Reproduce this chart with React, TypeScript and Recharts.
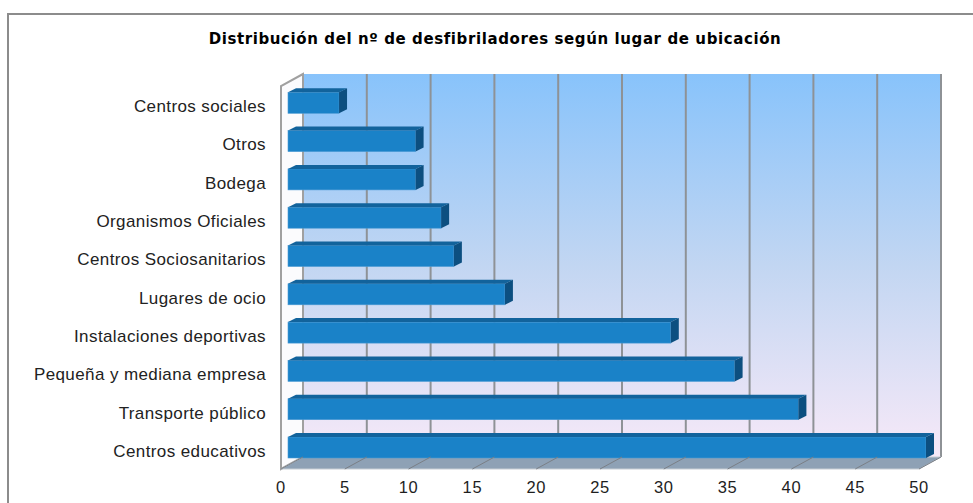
import React from "react";
import { BarChart, Bar, XAxis, YAxis, CartesianGrid, ReferenceArea } from "recharts";

// categories from top to bottom, as they appear in the chart
const lugares: string[] = [
    "Centros sociales",
    "Otros",
    "Bodega",
    "Organismos Oficiales",
    "Centros Sociosanitarios",
    "Lugares de ocio",
    "Instalaciones deportivas",
    "Pequeña y mediana empresa",
    "Transporte público",
    "Centros educativos",
];
const desfibriladores: number[] = [4, 10, 10, 12, 13, 17, 30, 35, 40, 50];
const xTicks: number[] = [0, 5, 10, 15, 20, 25, 30, 35, 40, 45, 50];

const data = lugares.map((name, i) => ({ name, value: desfibriladores[i] }));

// 3D offsets in px
const WALL_DX = 22;
const WALL_DY = 12;
const BAR_DX = 15;
const BAR_DY = 9.3;
const CAP_DX = 8;
const CAP_DY = 4;

const Bar3D = (props: any) => {
    const { x, y, width, height } = props;
    const fx = x - BAR_DX;
    const fy = y + BAR_DY;
    const w = Math.max(width, 0);
    return (
        <g>
            <rect x={fx} y={fy} width={w} height={height} fill="#1a82c8" stroke="#4a9ad4" strokeWidth={0.6} />
            <polygon
                points={`${fx},${fy} ${fx + CAP_DX},${fy - CAP_DY} ${fx + w + CAP_DX},${fy - CAP_DY} ${fx + w},${fy}`}
                fill="#12639c"
            />
            <polygon
                points={`${fx + w},${fy} ${fx + w + CAP_DX},${fy - CAP_DY} ${fx + w + CAP_DX},${fy + height - CAP_DY} ${fx + w},${fy + height}`}
                fill="#0c4f80"
            />
        </g>
    );
};

// floor and left wall of the 3D box
const Box3D = (props: any) => {
    const { x, y, width, height } = props;
    const b = y + height;
    return (
        <g>
            <polygon
                points={`${x},${y} ${x - WALL_DX},${y + WALL_DY} ${x - WALL_DX},${b + WALL_DY} ${x},${b}`}
                fill="#fbfbfd"
                stroke="#a0a0a0"
                strokeWidth={2}
            />
            <polygon
                points={`${x},${b} ${x + width},${b} ${x + width - WALL_DX},${b + WALL_DY} ${x - WALL_DX},${b + WALL_DY}`}
                fill="#8ea1b5"
                stroke="#c6ccd3"
                strokeWidth={1}
            />
        </g>
    );
};

const XTick = (props: any) => {
    const { x, y, payload } = props;
    return (
        <g>
            <line x1={x} y1={y} x2={x - WALL_DX} y2={y + WALL_DY} stroke="#7a7f86" strokeWidth={1} />
            <text
                x={x - WALL_DX}
                y={y + 36}
                textAnchor="middle"
                fontSize={16.5}
                letterSpacing={0.6}
                fill="#1e1e1e"
                fontFamily="'Liberation Sans', Arial, sans-serif"
            >
                {payload.value}
            </text>
        </g>
    );
};

const YTick = (props: any) => {
    const { x, y, payload } = props;
    return (
        <text
            x={x - 37}
            y={y + 19}
            textAnchor="end"
            fontSize={17}
            letterSpacing={0.4}
            fill="#222"
            fontFamily="'Liberation Sans', Arial, sans-serif"
        >
            {payload.value}
        </text>
    );
};

export default function App() {
    return (
        <div style={{ position: "absolute", left: 0, top: 0, width: 973, height: 503, overflow: "hidden", background: "#fff" }}>
            <div
                style={{
                    position: "absolute",
                    left: 7,
                    top: 13,
                    width: 1000,
                    height: 600,
                    border: "2px solid #8c8c8c",
                    boxSizing: "border-box",
                }}
            />
            <div
                style={{
                    position: "absolute",
                    left: 0,
                    top: 30,
                    width: 990,
                    textAlign: "center",
                    fontFamily: "'DejaVu Sans', sans-serif",
                    fontWeight: "bold",
                    fontSize: 15,
                    letterSpacing: 0.6,
                    color: "#000",
                }}
            >
                Distribución del nº de desfibriladores según lugar de ubicación
            </div>
            <div style={{ position: "absolute", left: 0, top: 0 }}>
                <BarChart
                    width={973}
                    height={503}
                    data={data}
                    layout="vertical"
                    margin={{ top: 74, right: 32, bottom: 0, left: 0 }}
                    barSize={21}
                >
                    <defs>
                        <linearGradient id="wall" x1="0" y1="0" x2="0" y2="1">
                            <stop offset="0%" stopColor="#88c3fb" />
                            <stop offset="50%" stopColor="#c2d6f2" />
                            <stop offset="100%" stopColor="#f7e9f8" />
                        </linearGradient>
                    </defs>
                    <CartesianGrid
                        horizontal={false}
                        vertical={true}
                        fill="url(#wall)"
                        fillOpacity={1}
                        stroke="#8e9296"
                        strokeWidth={2}
                    />
                    <XAxis
                        type="number"
                        domain={[0, 50]}
                        ticks={xTicks}
                        interval={0}
                        axisLine={false}
                        tickLine={false}
                        tickSize={0}
                        tickMargin={0}
                        height={46}
                        tick={<XTick />}
                    />
                    <YAxis
                        type="category"
                        dataKey="name"
                        width={303}
                        axisLine={false}
                        tickLine={false}
                        tickSize={0}
                        tickMargin={0}
                        interval={0}
                        tick={<YTick />}
                    />
                    <ReferenceArea x1={0} x2={50} shape={<Box3D />} fillOpacity={1} />
                    <Bar dataKey="value" shape={<Bar3D />} isAnimationActive={false} />
                </BarChart>
            </div>
        </div>
    );
}
